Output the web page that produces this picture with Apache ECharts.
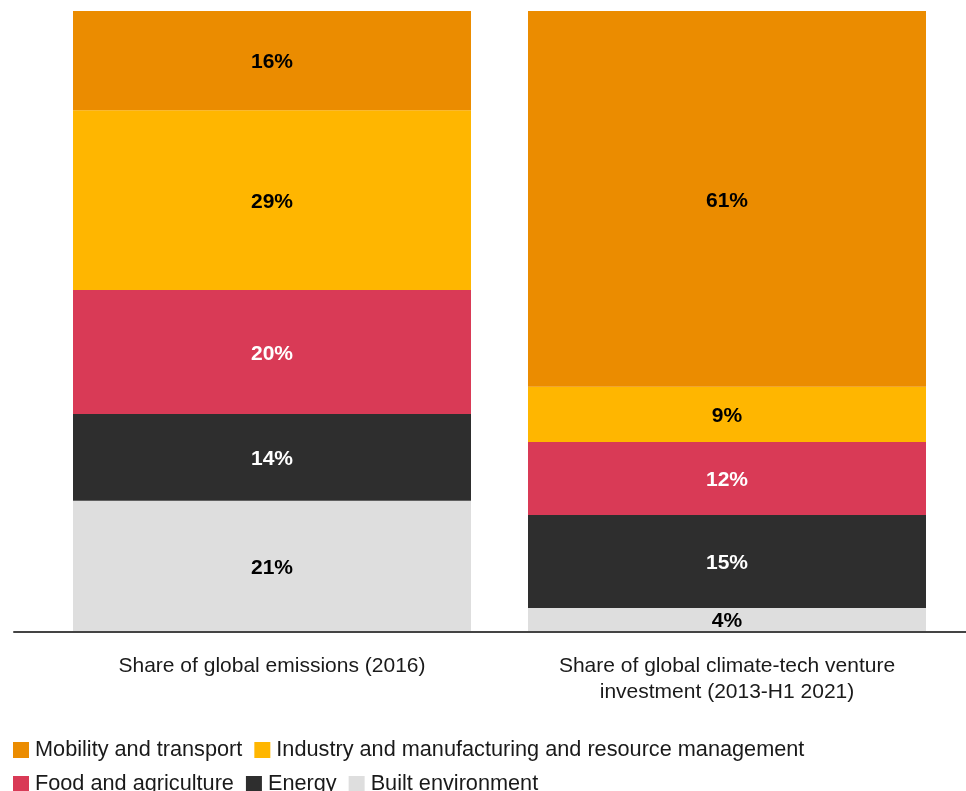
<!DOCTYPE html>
<html lang="en">
<head>
    <meta charset="UTF-8">
    <title>Emissions vs climate-tech investment</title>
    <script src="https://cdn.jsdelivr.net/npm/echarts@6/dist/echarts.min.js"></script>
    <style>
        html, body { margin: 0; padding: 0; background: #fff; }
        #main { width: 966px; height: 791px; }
    </style>
</head>
<body>
<div id="main"></div>
<script type="text/javascript">
    // categories (x axis)
    let categories = ['Share of global emissions (2016)', 'Share of global climate-tech venture\ninvestment (2013-H1 2021)']
    // sectors, bottom of the stack first
    let sectors = ['Built environment', 'Energy', 'Food and agriculture', 'Industry and manufacturing and resource management', 'Mobility and transport']
    let colors = ['#dedede', '#2e2e2e', '#d93a56', '#ffb600', '#eb8c00']
    let labelColors = ['#000', '#fff', '#fff', '#000', '#000']
    // shares in %
    let builtEnv = [21, 3.7]
    let energy = [14, 15]
    let foodAgri = [20, 11.8]
    let industry = [29, 8.9]
    let mobility = [16, 60.6]
    let legendOrder = ['Mobility and transport', 'Industry and manufacturing and resource management', 'Food and agriculture', 'Energy', 'Built environment']

    let values = [builtEnv, energy, foodAgri, industry, mobility]
    let font = '"Liberation Sans", Arial, Helvetica, sans-serif'

    let myChart = echarts.init(document.getElementById('main'))
    let series = sectors.map((name, i) => {
        return {
            name: name,
            type: 'bar',
            stack: 'total',
            barWidth: 398,
            data: values[i],
            itemStyle: { color: colors[i] },
            label: {
                show: true,
                position: 'inside',
                color: labelColors[i],
                fontFamily: font,
                fontWeight: 'bold',
                fontSize: 21,
                offset: [0, 2],
                formatter: (p) => Math.round(p.value) + '%'
            },
            emphasis: { disabled: true }
        }
    })
    // second grid only carries the long baseline
    series.push({ type: 'line', xAxisIndex: 1, yAxisIndex: 1, data: [], silent: true })

    let option = {
        animation: false,
        textStyle: { fontFamily: font },
        grid: [
            { left: 44.5, right: 11.5, top: 11, bottom: 160 },
            { left: 14, right: 0, top: 11, bottom: 159 }
        ],
        legend: {
            data: legendOrder,
            left: 8,
            top: 734,
            width: 860,
            icon: 'rect',
            itemWidth: 16,
            itemHeight: 16,
            itemGap: 12,
            selectedMode: false,
            textStyle: { fontSize: 21.7, color: '#1a1a1a', fontFamily: font, padding: [0, 0, 0, 1] }
        },
        xAxis: [
            {
                type: 'category',
                data: categories,
                axisLine: { show: false },
                axisTick: { show: false },
                axisLabel: { color: '#1a1a1a', fontSize: 21, lineHeight: 26, margin: 22, fontFamily: font }
            },
            {
                type: 'value',
                gridIndex: 1,
                min: 0,
                max: 1,
                axisLine: { show: true, lineStyle: { color: '#444', width: 2 } },
                axisTick: { show: false },
                axisLabel: { show: false },
                splitLine: { show: false }
            }
        ],
        yAxis: [
            { type: 'value', min: 0, max: 100, show: false },
            { type: 'value', gridIndex: 1, min: 0, max: 1, show: false }
        ],
        series: series
    }
    myChart.setOption(option)
</script>
</body>
</html>
